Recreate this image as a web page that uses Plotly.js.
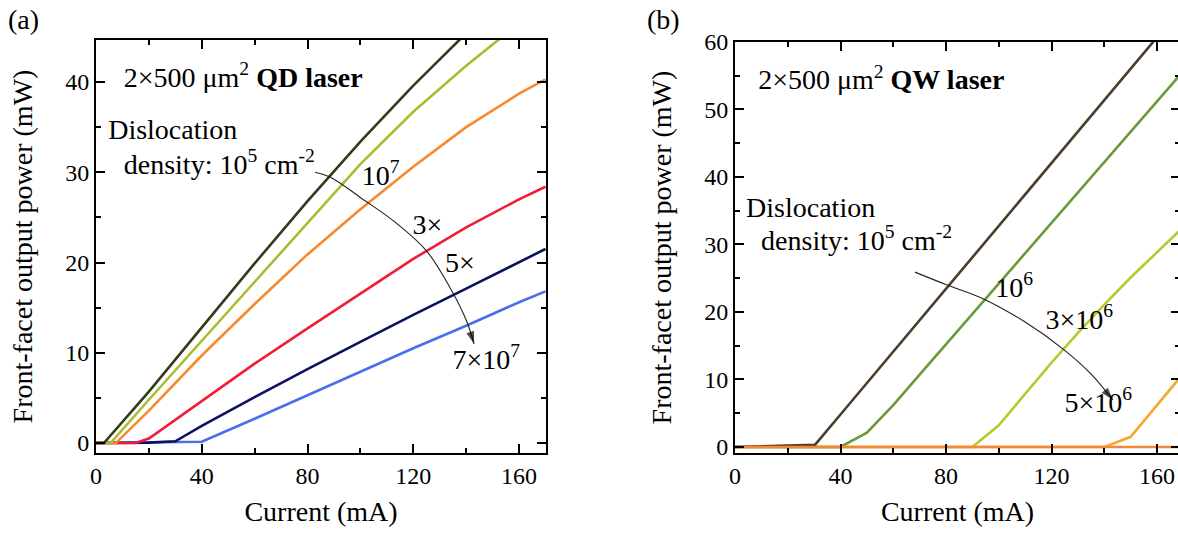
<!DOCTYPE html>
<html>
<head>
<meta charset="utf-8">
<script src="https://cdn.plot.ly/plotly-3.0.1.min.js"></script>
<style>
  html, body { margin: 0; padding: 0; background: #fff; }
  #wrap { width: 1178px; height: 533px; overflow: hidden; }
</style>
</head>
<body>
<div id="wrap"><div id="chart"></div></div>
<script>
// ---------- Panel (a): QD laser ----------
const qd1e5_I = [0, 3, 20, 40, 60, 80, 100, 120, 140];
const qd1e5_P = [0, 0, 5.7, 12.8, 19.9, 26.8, 33.4, 39.6, 45.4];
const qd1e6_I = [0, 5.5, 20, 40, 60, 80, 100, 120, 140, 160];
const qd1e6_P = [0, 0, 4.8, 11.3, 17.8, 24.4, 30.9, 36.7, 41.8, 46.5];
const qd1e7_I = [0, 7.5, 20, 40, 60, 80, 100, 120, 140, 160, 170];
const qd1e7_P = [0, 0, 3.6, 9.7, 15.4, 20.9, 25.9, 30.6, 35.0, 38.7, 40.3];
const qd3e7_I = [0, 15, 20, 30, 40, 60, 80, 100, 120, 140, 160, 170];
const qd3e7_P = [0, 0, 0.5, 2.6, 4.6, 8.8, 12.7, 16.6, 20.4, 23.9, 27.0, 28.4];
const qd5e7_I = [0, 20, 30, 40, 60, 80, 100, 120, 140, 160, 170];
const qd5e7_P = [0, 0.05, 0.2, 1.9, 5.1, 8.2, 11.2, 14.2, 17.1, 20.0, 21.5];
const qd7e7_I = [0, 40, 60, 80, 100, 120, 140, 160, 170];
const qd7e7_P = [0, 0.15, 2.7, 5.3, 7.9, 10.5, 13.0, 15.6, 16.8];
const arrowA_I = [82.8, 89, 100.5, 113, 125, 134.5, 140.2, 143.0];
const arrowA_P = [30.0, 29.4, 27.1, 24.5, 21.3, 16.9, 13.5, 11.0];

// labels of panel (a)
const labelsA_text = ['2×500 μm<sup>2</sup> <b>QD laser</b>', 'Dislocation',
  'density: 10<sup>5</sup> cm<sup>-2</sup>', '10<sup>7</sup>', '3×', '5×', '7×10<sup>7</sup>'];
const labelsA_I = [10.5, 4.6, 10.5, 100.5, 119.7, 132, 134.8];
const labelsA_P = [40.2, 34.5, 30.6, 29.4, 23.9, 19.7, 9.0];

// ---------- Panel (b): QW laser ----------
const qw1e5_I = [0, 20, 30.3, 40, 60, 80, 100, 120, 140, 160];
const qw1e5_P = [0, 0.2, 0.3, 4.8, 14.1, 23.5, 32.8, 42.1, 51.4, 60.7];
const qw1e6_I = [0, 40, 50, 60, 70, 80, 100, 120, 140, 160, 170];
const qw1e6_P = [0, 0, 2.1, 6.2, 10.7, 15.2, 24.2, 33.2, 42.2, 51.2, 55.7];
const qw3e6_I = [0, 90, 100, 110, 120, 130, 140, 150, 160, 170];
const qw3e6_P = [0, 0, 3.2, 7.9, 12.5, 16.9, 21.1, 25.1, 28.9, 32.6];
const qw5e6_I = [0, 140, 150, 160, 170];
const qw5e6_P = [0, 0, 1.5, 6.2, 10.9];
const qw1e7_I = [0, 170];
const qw1e7_P = [0, 0];
const arrowB_I = [68.2, 79.7, 94.4, 110, 124.4, 135, 143.2];
const arrowB_P = [25.9, 24.1, 21.9, 18.5, 14.5, 10.8, 7.0];

const labelsB_text = ['2×500 μm<sup>2</sup> <b>QW laser</b>', 'Dislocation',
  'density: 10<sup>5</sup> cm<sup>-2</sup>', '10<sup>6</sup>', '3×10<sup>6</sup>', '5×10<sup>6</sup>'];
const labelsB_I = [8.8, 4.2, 9.9, 98.7, 117.7, 124.9];
const labelsB_P = [54, 35.1, 30.2, 23.3, 18.5, 6.2];

// panel tags and axis titles
const panelTags = ['(a)', '(b)'];
const xTitle = 'Current (mA)';
const yTitle = 'Front-facet output power (mW)';

// ---------- layout helpers ----------
const W = 1184, H = 533;
const px = v => v / W;
const py = v => 1 - v / H;

const FONT = '"Liberation Serif", "Times New Roman", Times, serif';
const LW = 2.6;

function line(x, y, color, xa, ya) {
  return { x, y, type: 'scatter', mode: 'lines', xaxis: xa, yaxis: ya,
           line: { color, width: LW }, hoverinfo: 'skip', showlegend: false };
}
function arrow(x, y, xa, ya) {
  const sizes = x.map((v, i) => (i === x.length - 1 ? 13 : 0));
  return { x, y, type: 'scatter', mode: 'lines+markers', xaxis: xa, yaxis: ya,
           line: { color: '#222', width: 1.1, shape: 'spline' },
           marker: { symbol: 'arrow', angleref: 'previous', size: sizes, color: '#000', line: { width: 0 } },
           hoverinfo: 'skip', showlegend: false, cliponaxis: false };
}
function labels(text, x, y, xa, ya) {
  return { x, y, text, type: 'scatter', mode: 'text', xaxis: xa, yaxis: ya,
           textposition: 'middle right', textfont: { family: FONT, size: 28, color: '#000' },
           hoverinfo: 'skip', showlegend: false, cliponaxis: false };
}
function empty(xa, ya) {
  return { x: [], y: [], type: 'scatter', mode: 'lines', xaxis: xa, yaxis: ya, hoverinfo: 'skip', showlegend: false };
}

const traces = [
  line(qd7e7_I, qd7e7_P, '#4a6ef0', 'x', 'y'),
  line(qd5e7_I, qd5e7_P, '#0b1263', 'x', 'y'),
  line(qd3e7_I, qd3e7_P, '#f21b3a', 'x', 'y'),
  line(qd1e7_I, qd1e7_P, '#f7892e', 'x', 'y'),
  line(qd1e6_I, qd1e6_P, '#a8bd30', 'x', 'y'),
  line(qd1e5_I, qd1e5_P, '#343b1b', 'x', 'y'),
  arrow(arrowA_I, arrowA_P, 'x', 'y'),
  labels(labelsA_text, labelsA_I, labelsA_P, 'x', 'y'),

  line(qw5e6_I, qw5e6_P, '#f5a82a', 'x2', 'y2'),
  line(qw3e6_I, qw3e6_P, '#b6ca2e', 'x2', 'y2'),
  line(qw1e6_I, qw1e6_P, '#6b9a38', 'x2', 'y2'),
  line(qw1e5_I, qw1e5_P, '#4a3e2a', 'x2', 'y2'),
  line(qw1e7_I, qw1e7_P, '#f4873a', 'x2', 'y2'),
  arrow(arrowB_I, arrowB_P, 'x2', 'y2'),
  labels(labelsB_text, labelsB_I, labelsB_P, 'x2', 'y2'),

  empty('x3', 'y3'),
  empty('x4', 'y4')
];

const base = {
  showgrid: false, zeroline: false, fixedrange: true,
  ticks: 'inside', tickwidth: 2, tickcolor: '#000', tick0: 0, mirror: 'ticks'
};
function xaxis(domain, range, anchor) {
  return Object.assign({}, base, {
    domain, range, anchor,
    showline: true, linecolor: '#000', linewidth: 2,
    ticklen: 9, dtick: 40,
    tickfont: { family: FONT, size: 24, color: '#000' },
    title: { text: xTitle, font: { family: FONT, size: 28, color: '#000' }, standoff: 14 }
  });
}
function yaxis(domain, range, anchor) {
  return Object.assign({}, base, {
    domain, range, anchor,
    showline: true, linecolor: '#000', linewidth: 2,
    ticklen: 9, dtick: 10,
    tickfont: { family: FONT, size: 24, color: '#000' },
    title: { text: yTitle, font: { family: FONT, size: 28, color: '#000' }, standoff: 24 }
  });
}
// unlabeled overlay axes that carry the minor ticks
function minorAxis(domain, range, anchor, overlaying, dtick) {
  return Object.assign({}, base, {
    domain, range, anchor, overlaying, dtick,
    showline: false, ticklen: 5, tickwidth: 1.5, showticklabels: false
  });
}

const dxA = [px(96), px(546)], dyA = [1 - 453 / H, 1 - 40 / H];
const dxB = [px(735), px(1180)], dyB = [1 - 453 / H, 1 - 42 / H];
const rxA = [0, 170.2], ryA = [-1.1, 44.65];
const rxB = [0, 168.7], ryB = [-0.9, 60];

const layout = {
  width: W, height: H,
  margin: { l: 0, r: 0, t: 0, b: 0 },
  paper_bgcolor: '#fff', plot_bgcolor: 'rgba(0,0,0,0)',
  showlegend: false,
  font: { family: FONT, size: 24, color: '#000' },
  xaxis: xaxis(dxA, rxA, 'y'),
  yaxis: yaxis(dyA, ryA, 'x'),
  xaxis2: xaxis(dxB, rxB, 'y2'),
  yaxis2: yaxis(dyB, ryB, 'x2'),
  xaxis3: minorAxis(dxA, rxA, 'y3', 'x', 20),
  yaxis3: minorAxis(dyA, ryA, 'x3', 'y', 5),
  xaxis4: minorAxis(dxB, rxB, 'y4', 'x2', 20),
  yaxis4: minorAxis(dyB, ryB, 'x4', 'y2', 5),
  annotations: [
    { text: panelTags[0], x: px(6), y: py(20), xref: 'paper', yref: 'paper', xanchor: 'left', yanchor: 'middle',
      showarrow: false, font: { family: FONT, size: 28, color: '#000' } },
    { text: panelTags[1], x: px(645), y: py(20), xref: 'paper', yref: 'paper', xanchor: 'left', yanchor: 'middle',
      showarrow: false, font: { family: FONT, size: 28, color: '#000' } }
  ]
};

Plotly.newPlot('chart', traces, layout, { displayModeBar: false, responsive: false });
</script>
</body>
</html>
